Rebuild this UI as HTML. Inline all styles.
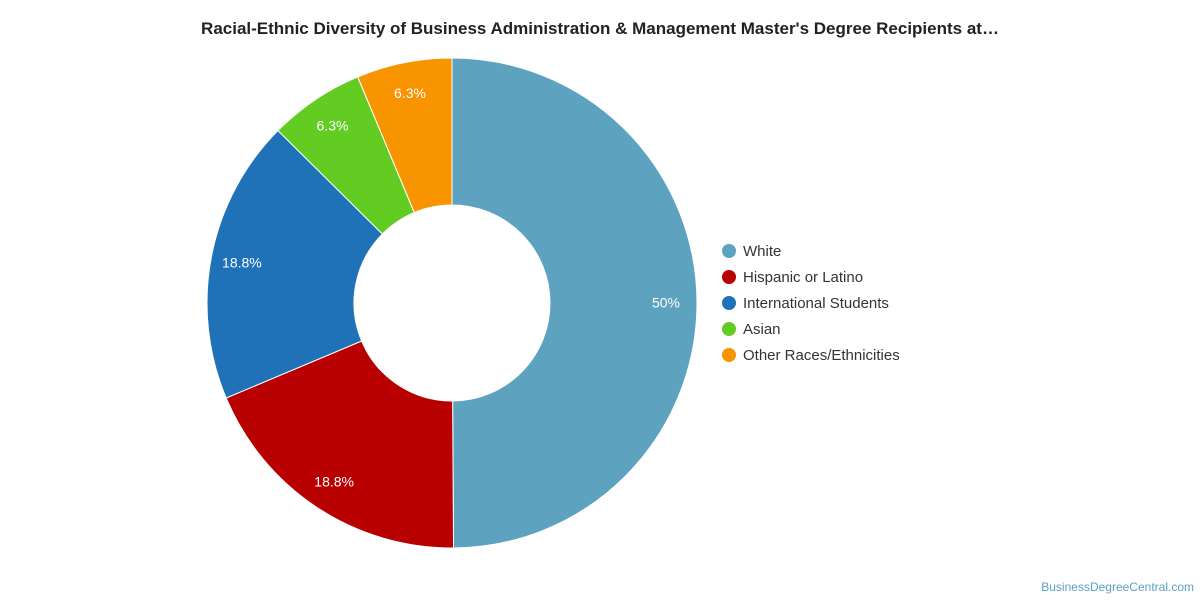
<!DOCTYPE html>
<html><head><meta charset="utf-8"><style>
body{margin:0;background:#fff;font-family:"Liberation Sans",Roboto,sans-serif;}
</style></head><body>
<svg width="1200" height="600">
<text x="600" y="34" text-anchor="middle" font-size="17" font-weight="bold" fill="#222">Racial-Ethnic Diversity of Business Administration &amp; Management Master's Degree Recipients at…</text>
<g id="slices"></g>
<g id="legend"></g>
<text x="1194" y="591" text-anchor="end" font-size="12" fill="#5a9fc8">BusinessDegreeCentral.com</text>
</svg>
<script>
const categories=["White","Hispanic or Latino","International Students","Asian","Other Races/Ethnicities"];
const values=[50,18.8,18.8,6.3,6.3];
const labels=["50%","18.8%","18.8%","6.3%","6.3%"];
const colors=["#5da2bf","#b80000","#1f72b8","#62cc22","#f79400"];
const cx=452,cy=303,R=245,r0=98,rl=214;
const NS="http://www.w3.org/2000/svg";
const total=values.reduce((a,b)=>a+b,0);
const g=document.getElementById('slices');
function pt(a,rad){return [cx+rad*Math.sin(a),cy-rad*Math.cos(a)];}
let a0=0;
values.forEach((v,i)=>{
 const a1=a0+v/total*2*Math.PI;
 const [x1,y1]=pt(a0,R),[x2,y2]=pt(a1,R),[x3,y3]=pt(a1,r0),[x4,y4]=pt(a0,r0);
 const lg=(a1-a0)>Math.PI?1:0;
 const p=document.createElementNS(NS,'path');
 p.setAttribute('d',`M${x1},${y1}A${R},${R} 0 ${lg} 1 ${x2},${y2}L${x3},${y3}A${r0},${r0} 0 ${lg} 0 ${x4},${y4}Z`);
 p.setAttribute('fill',colors[i]);p.setAttribute('stroke','#fff');p.setAttribute('stroke-width','1');
 
 
 g.appendChild(p);
 const m=(a0+a1)/2,[lx,ly]=pt(m,rl);
 const t=document.createElementNS(NS,'text');
 t.setAttribute('x',lx);t.setAttribute('y',ly+5);t.setAttribute('text-anchor','middle');
 t.setAttribute('font-size','14');t.setAttribute('fill','#fff');t.textContent=labels[i];
 
 
 g.appendChild(t);
 a0=a1;
});
const lgd=document.getElementById('legend');
categories.forEach((c,i)=>{
 const y=251+i*26;
 const ci=document.createElementNS(NS,'circle');
 ci.setAttribute('cx',729);ci.setAttribute('cy',y);ci.setAttribute('r',7);ci.setAttribute('fill',colors[i]);
 
 
 lgd.appendChild(ci);
 const t=document.createElementNS(NS,'text');
 t.setAttribute('x',743);t.setAttribute('y',y+5);t.setAttribute('font-size','15');t.setAttribute('fill','#333');t.textContent=c;
 
 
 lgd.appendChild(t);
});
</script>
</body></html>
